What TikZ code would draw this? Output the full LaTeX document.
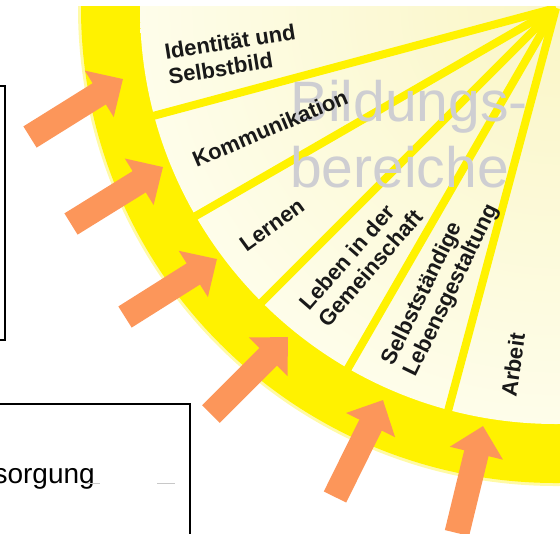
\documentclass[tikz,border=0pt]{standalone}
\usepackage{fontspec}
\setmainfont{Liberation Sans}
\usepackage{xcolor}
\usetikzlibrary{arrows.meta}

\definecolor{ringYellow}{RGB}{255,242,0}
\definecolor{creamIn}{RGB}{250,246,198}
\definecolor{creamOut}{RGB}{254,253,234}
\definecolor{arrowOrange}{RGB}{252,150,90}
\definecolor{titleGray}{RGB}{206,206,210}
\definecolor{markGray}{RGB}{200,200,200}

\tikzset{
  sectorLabel/.style={anchor=center, inner sep=0.75pt, align=left, text={black!90}, font=\bfseries\fontsize{16.5}{18.5}\selectfont},
  bigArrow/.style={draw=arrowOrange, line width=18.75pt, -{Triangle[length=21pt,width=39.75pt]}},
}

\begin{document}
\begin{tikzpicture}[x=0.75pt,y=0.75pt,yscale=-1,xscale=1]
\useasboundingbox (0,0) rectangle (560,533);
\clip (0,0) rectangle (560,533);

\coordinate (hub) at (556,8);

%Shape: Circle, quarter disc cut at the top
\begin{scope}
\clip (0,6) rectangle (560,533);
\fill[ringYellow!35] (hub) circle (478);
\fill[ringYellow] (hub) circle (475);
\shade[inner color=creamIn, outer color=creamOut] (hub) circle (416);
%Straight Lines: rays between the sectors
\foreach \a in {165,150,135,120,105}
  \draw[ringYellow, line width=6pt] (hub) -- ++(\a:418);
\end{scope}

% Text Node
\draw (409,134) node (bigTitle) [inner sep=0pt, align=left, text=titleGray, font=\fontsize{42.75}{49.5}\selectfont] {Bildungs-\\bereiche};

% Text Node
\draw (232,54) node (lblIdentitaet) [sectorLabel, rotate=9] {Identität und\\Selbstbild};
% Text Node
\draw (270,128) node (lblKommunikation) [sectorLabel, rotate=23] {Kommunikation};
% Text Node
\draw (272,225) node (lblLernen) [sectorLabel, rotate=36] {Lernen};
% Text Node
\draw (361,260) node (lblGemeinschaft) [sectorLabel, rotate=49] {Leben in der\\Gemeinschaft};
% Text Node
\draw (441,285) node (lblLebensgestaltung) [sectorLabel, rotate=64] {Selbstständige\\Lebensgestaltung};
% Text Node
\draw (513,365) node (lblArbeit) [sectorLabel, rotate=82] {Arbeit};

%Right Arrows
\foreach \n/\tx/\ty/\hx/\hy in {1/30/137/123/79, 2/71/224/163/167, 3/125/317/217/259, 4/211/414/288/337, 5/335/497/383/400, 6/457/533/483/426} {
  \coordinate (tail\n) at (\tx,\ty);
  \coordinate (tip\n) at (\hx,\hy);
  \draw[bigArrow] (tail\n) -- (tip\n);
}

%Shape: Rectangle, left box
\draw[line width=1.1pt] (-10,86) rectangle (5,340);
%Shape: Rectangle, lower box
\draw[line width=1.1pt] (-10,404) rectangle (190,545);

% Text Node
\draw (95,483) node (versorgung) [anchor=base east, inner sep=0pt, font=\fontsize{21}{25}\selectfont] {sorgung};
%Straight Lines
\draw[markGray, line width=0.75pt] (85,483.5) -- (100,483.5);
\draw[markGray, line width=0.75pt] (157,483.5) -- (175,483.5);

\end{tikzpicture}
\end{document}
